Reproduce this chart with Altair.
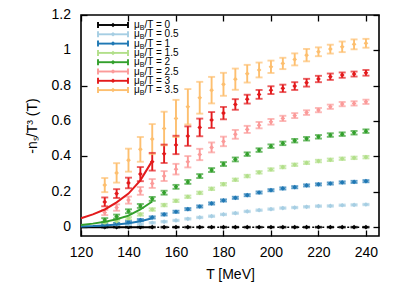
import altair as alt
import pandas as pd

# ---------------- data ----------------
T = [130, 135, 140, 145, 150, 155, 160, 165, 170, 175, 180, 185,
     190, 195, 200, 205, 210, 215, 220, 225, 230, 235, 240]

series_labels = ["0", "0.5", "1", "1.5", "2", "2.5", "3", "3.5"]
series_colors = ["#000000", "#a6cee3", "#1f78b4", "#b2df8a",
                 "#33a02c", "#fb9a99", "#e31a1c", "#fdbf6f"]

v_0 = [0, 0, 0, 0, 0, 0, 0, 0, 0, 0, 0, 0, 0, 0, 0, 0, 0, 0, 0, 0, 0, 0, 0]
v_05 = [0.005, 0.008, 0.013, 0.018, 0.025, 0.031, 0.038, 0.047, 0.055, 0.062, 0.072, 0.079,
        0.089, 0.096, 0.102, 0.108, 0.111, 0.115, 0.119, 0.120, 0.124, 0.126, 0.128]
v_1 = [0.012, 0.018, 0.028, 0.040, 0.055, 0.072, 0.087, 0.102, 0.117, 0.134, 0.151, 0.166,
       0.181, 0.196, 0.209, 0.219, 0.226, 0.236, 0.242, 0.247, 0.253, 0.256, 0.260]
v_15 = [0.020, 0.033, 0.050, 0.072, 0.100, 0.125, 0.149, 0.172, 0.194, 0.217, 0.243, 0.268,
        0.289, 0.310, 0.326, 0.340, 0.353, 0.364, 0.374, 0.381, 0.387, 0.392, 0.396]
v_2 = [0.040, 0.060, 0.090, 0.120, 0.160, 0.195, 0.228, 0.256, 0.289, 0.323, 0.357, 0.383,
       0.413, 0.436, 0.458, 0.474, 0.489, 0.500, 0.511, 0.521, 0.526, 0.534, 0.543]
v_25 = [0.083, 0.111, 0.153, 0.205, 0.247, 0.289, 0.328, 0.370, 0.411, 0.451, 0.485, 0.525,
        0.553, 0.577, 0.596, 0.615, 0.631, 0.648, 0.662, 0.681, 0.696, 0.700, 0.709]
v_3 = [0.143, 0.190, 0.250, 0.300, 0.370, 0.415, 0.465, 0.515, 0.564, 0.606, 0.645, 0.694,
       0.724, 0.751, 0.775, 0.785, 0.798, 0.817, 0.838, 0.851, 0.860, 0.866, 0.873]
v_35 = [0.238, 0.307, 0.379, 0.440, 0.498, 0.558, 0.615, 0.681, 0.732, 0.775, 0.808, 0.837,
        0.868, 0.889, 0.907, 0.926, 0.949, 0.973, 0.992, 1.007, 1.020, 1.034, 1.040]

e_0 = [0.002] * 23
e_05 = [0.004] * 23
e_1 = [0.006] * 23
e_15 = [0.007] * 23
e_2 = [0.011, 0.011, 0.011, 0.011, 0.011, 0.011, 0.011, 0.011, 0.011, 0.011, 0.011, 0.011,
       0.010, 0.010, 0.010, 0.010, 0.010, 0.010, 0.010, 0.010, 0.010, 0.010, 0.010]
e_25 = [0.015, 0.018, 0.020, 0.022, 0.025, 0.028, 0.030, 0.032, 0.032, 0.028, 0.027, 0.025,
        0.020, 0.018, 0.016, 0.015, 0.014, 0.013, 0.012, 0.012, 0.012, 0.012, 0.012]
e_3 = [0.025, 0.025, 0.030, 0.040, 0.050, 0.052, 0.052, 0.055, 0.050, 0.045, 0.035, 0.030,
       0.025, 0.025, 0.022, 0.021, 0.022, 0.022, 0.018, 0.018, 0.015, 0.014, 0.016]
e_35 = [0.040, 0.055, 0.065, 0.070, 0.085, 0.095, 0.105, 0.100, 0.090, 0.075, 0.065, 0.060,
        0.050, 0.042, 0.035, 0.032, 0.034, 0.035, 0.025, 0.025, 0.030, 0.028, 0.025]

# model curves (solid lines, 120-150 MeV)
T_curve = [120, 125, 130, 135, 140, 145, 150]
c_0 = [0, 0, 0, 0, 0, 0, 0]
c_1 = [0.004, 0.006, 0.010, 0.015, 0.022, 0.033, 0.050]
c_2 = [0.012, 0.020, 0.030, 0.045, 0.065, 0.100, 0.145]
c_3 = [0.050, 0.072, 0.100, 0.140, 0.190, 0.265, 0.375]

# dotted continuation of mu_B/T = 0
T_dot = [150, 240]
c_dot = [0, 0]

y_ticks = [0, 0.2, 0.4, 0.6, 0.8, 1, 1.2]
y_tick_labels = ["0", "0.2", "0.4", "0.6", "0.8", "1", "1.2"]
x_ticks = [120, 140, 160, 180, 200, 220, 240]

# ---------------- tables ----------------
vals = [v_0, v_05, v_1, v_15, v_2, v_25, v_3, v_35]
errs = [e_0, e_05, e_1, e_15, e_2, e_25, e_3, e_35]
rows = []
for k, lab in enumerate(series_labels):
    for t, v, e in zip(T, vals[k], errs[k]):
        rows.append({"T": t, "v": v, "lo": v - e, "hi": v + e, "series": lab, "k": k})
df = pd.DataFrame(rows)

crows = []
for lab, cv in zip(["0", "1", "2", "3"], [c_0, c_1, c_2, c_3]):
    for t, v in zip(T_curve, cv):
        crows.append({"T": t, "v": v, "series": lab})
dfc = pd.DataFrame(crows)
dfd = pd.DataFrame({"T": T_dot, "v": c_dot, "series": ["0", "0"]})

leg = pd.DataFrame({"i": list(range(8)), "series": series_labels})
ylab = pd.DataFrame({"y": y_ticks, "lab": y_tick_labels})

# ---------------- chart ----------------
FONT = "Liberation Sans"
xs = alt.Scale(domain=[120, 245.5], nice=False, zero=False)
ys = alt.Scale(domain=[-0.05, 1.2], nice=False, zero=False)
col = alt.Color("series:N", scale=alt.Scale(domain=series_labels, range=series_colors), legend=None)

x_axis = alt.Axis(values=x_ticks, offset=-6, tickSize=6, tickWidth=1.3, tickColor="black",
                  domain=False, grid=False, labelPadding=9, labelFont=FONT, labelFontSize=14,
                  labelColor="black", labelFlush=False, labelOverlap=False,
                  title="T [MeV]", titleFont=FONT, titleFontSize=14,
                  titleFontWeight="normal", titleColor="black", titlePadding=8)
y_axis = alt.Axis(values=y_ticks, offset=-6, tickSize=6, tickWidth=1.3,
                  tickColor="black", domain=False, grid=False, labels=False,
                  title="-nₛ/T³ (T)", titleFont=FONT,
                  titleFontSize=14, titleFontWeight="normal", titleColor="black", titlePadding=41)

XQ = alt.X("T:Q", scale=xs, axis=x_axis)
base = alt.Chart(df)
bars = base.mark_rule(strokeWidth=1.9).encode(
    x=XQ, y=alt.Y("lo:Q", scale=ys, axis=y_axis), y2="hi:Q", color=col)
cap_lo = base.mark_tick(orient="horizontal", thickness=1.9, size=7).encode(
    x="T:Q", y="lo:Q", color=col)
cap_hi = base.mark_tick(orient="horizontal", thickness=1.9, size=7).encode(
    x="T:Q", y="hi:Q", color=col)
pts = base.mark_point(shape="diamond", filled=True, size=22, opacity=1).encode(
    x="T:Q", y="v:Q", color=col)

curves = alt.Chart(dfc).mark_line(strokeWidth=2).encode(
    x="T:Q", y="v:Q", color=col, detail="series:N")
dots = alt.Chart(dfd).mark_line(strokeWidth=1.5, strokeDash=[2, 3]).encode(
    x="T:Q", y="v:Q", color=col)

# y tick labels drawn as text on the y scale, left of the frame
ytxt = alt.Chart(ylab).mark_text(align="right", baseline="middle", font=FONT, fontSize=14,
                                 color="black", dx=-10).encode(
    x=alt.value(0), y=alt.Y("y:Q"), text="lab:N")

# legend (top-left inside the frame), pixel positions inside the plot area
lbase = alt.Chart(leg).transform_calculate(
    py="10 + datum.i * 9.3", x1="17", x2="47", xm="32",
    yt="datum.py - 3", yb="datum.py + 3",
    xmu="53", xb="58.8", xt="63.5", yb2="datum.py + 3",
    txt="'/T = ' + datum.series")
PX = lambda f: alt.X(f + ":Q", scale=None, axis=None)
PY = lambda f: alt.Y(f + ":Q", scale=None, axis=None)
l_line = lbase.mark_rule(strokeWidth=1.9).encode(x=PX("x1"), x2="x2:Q", y=PY("py"), color=col)
l_c1 = lbase.mark_rule(strokeWidth=1.9).encode(x=PX("x1"), y=PY("yt"), y2="yb:Q", color=col)
l_c2 = lbase.mark_rule(strokeWidth=1.9).encode(x=PX("x2"), y=PY("yt"), y2="yb:Q", color=col)
l_pt = lbase.mark_point(shape="diamond", filled=True, size=20, opacity=1).encode(
    x=PX("xm"), y=PY("py"), color=col)
l_mu = lbase.mark_text(align="left", baseline="middle", font=FONT, fontSize=10, color="black").encode(
    x=PX("xmu"), y=PY("py"), text=alt.value("μ"))
l_b = lbase.mark_text(align="left", baseline="middle", font=FONT, fontSize=7, color="black").encode(
    x=PX("xb"), y=PY("yb2"), text=alt.value("B"))
l_t = lbase.mark_text(align="left", baseline="middle", font=FONT, fontSize=10, color="black").encode(
    x=PX("xt"), y=PY("py"), text="txt:N")

main = alt.layer(bars, cap_lo, cap_hi, pts, curves, dots, ytxt,
                 l_line, l_c1, l_c2, l_pt, l_mu, l_b, l_t)

# extra mirrored axes (top and right), inward ticks
mirror = alt.Chart(dfd).mark_point(opacity=0).encode(
    x=alt.X("T:Q", scale=xs, axis=alt.Axis(orient="top", values=x_ticks, offset=-6, tickSize=6,
                                             tickWidth=1.3, tickColor="black", labels=False,
                                             domain=False, grid=False, title=None)),
    y=alt.Y("v:Q", scale=ys, axis=alt.Axis(orient="right", values=y_ticks, offset=-6, tickSize=6,
                                             tickWidth=1.3, tickColor="black", labels=False,
                                             domain=False, grid=False, title=None)))

chart = alt.layer(main, mirror).resolve_axis(x="independent", y="independent").properties(
    width=298, height=221,
    autosize=alt.AutoSizeParams(type="none"),
    padding={"left": 73, "top": 7, "right": 20, "bottom": 49},
).configure_view(stroke="black", strokeWidth=1.6)

chart.save("out.html", embed_options={"renderer": "svg", "actions": False})
